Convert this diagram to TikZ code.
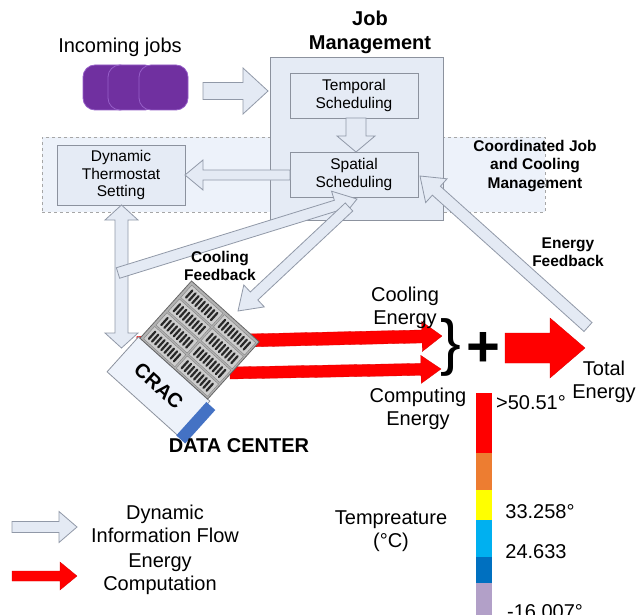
\documentclass[tikz,border=0pt]{standalone}
\usepackage{fontspec}
\setmainfont{Liberation Sans}
\usetikzlibrary{calc}
\definecolor{boxfill}{RGB}{229,235,245}
\definecolor{regfill}{RGB}{237,242,250}
\definecolor{boxline}{RGB}{140,146,158}
\definecolor{arrfill}{RGB}{228,234,244}
\definecolor{arrline}{RGB}{145,153,168}
\definecolor{jobpurple}{RGB}{112,48,160}
\definecolor{jobedge}{RGB}{150,95,200}
\definecolor{rackfill}{RGB}{178,178,178}
\definecolor{rackcell}{RGB}{205,205,205}
\definecolor{slotcol}{RGB}{40,40,40}
\definecolor{cracblue}{RGB}{68,114,196}
\definecolor{tred}{RGB}{255,0,0}
\definecolor{torange}{RGB}{237,125,49}
\definecolor{tyellow}{RGB}{255,255,0}
\definecolor{tlblue}{RGB}{0,176,240}
\definecolor{tdblue}{RGB}{0,112,192}
\definecolor{tlav}{RGB}{178,160,200}
\tikzset{
  flow/.style={fill=arrfill, draw=arrline, line width=0.8pt, line join=miter},
  energy/.style={fill=red, draw=red!85!black, line width=0.3pt},
  box/.style={draw=boxline, fill=boxfill, line width=0.8pt, align=center,
    font=\fontsize{15.5}{17.5}\selectfont, inner sep=0pt},
  lbl/.style={align=center, font=\fontsize{20}{23}\selectfont, inner sep=0pt},
  blbl/.style={align=center, font=\bfseries\fontsize{15.5}{17.5}\selectfont, inner sep=0pt},
}
% block arrow: style, from, to, shaft half width, head half width, head length
\newcommand{\blockarrow}[6]{%
  \path let \p1=($(#3)-(#2)$) in \pgfextra{%
    \pgfmathsetmacro{\baLen}{veclen(\x1,\y1)}%
    \pgfmathsetmacro{\baAng}{atan2(\y1,\x1)}%
    \xdef\baLen{\baLen}\xdef\baAng{\baAng}};
  \begin{scope}[shift={(#2)},rotate=\baAng]
    \draw[#1] (0,#4) -- ({\baLen-#6},#4) -- ({\baLen-#6},#5) -- (\baLen,0)
      -- ({\baLen-#6},-#5) -- ({\baLen-#6},-#4) -- (0,-#4) -- cycle;
  \end{scope}}
\newcommand{\blockdarrow}[6]{%
  \path let \p1=($(#3)-(#2)$) in \pgfextra{%
    \pgfmathsetmacro{\baLen}{veclen(\x1,\y1)}%
    \pgfmathsetmacro{\baAng}{atan2(\y1,\x1)}%
    \xdef\baLen{\baLen}\xdef\baAng{\baAng}};
  \begin{scope}[shift={(#2)},rotate=\baAng]
    \draw[#1] (#6,#4) -- ({\baLen-#6},#4) -- ({\baLen-#6},#5) -- (\baLen,0)
      -- ({\baLen-#6},-#5) -- ({\baLen-#6},-#4) -- (#6,-#4) -- (#6,-#5)
      -- (0,0) -- (#6,#5) -- cycle;
  \end{scope}}
\begin{document}
\begin{tikzpicture}[x=1pt,y=-1pt]
\useasboundingbox (0,0) rectangle (637,615);
\fill[white] (0,0) rectangle (637,615);

% regions and boxes
\node[draw=gray!70, dashed, fill=regfill, line width=0.6pt, minimum width=503, minimum height=75, inner sep=0pt] (coord) at (293.5,174.5) {};
\node[box, minimum width=173, minimum height=163] (jm) at (356.5,138.5) {};
\node[box, minimum width=128, minimum height=45] (temporal) at (354,95.5) {Temporal\\Scheduling};
\node[box, minimum width=128, minimum height=45] (spatial) at (354,174.5) {Spatial\\Scheduling};
\node[box, minimum width=128, minimum height=60] (thermo) at (121,175) {Dynamic\\Thermostat\\Setting};

% jobs
\draw[fill=jobpurple, draw=jobedge, line width=0.8pt, rounded corners=12] (83,65) rectangle (132,110);
\draw[fill=jobpurple, draw=jobedge, line width=0.8pt, rounded corners=12] (108,65) rectangle (157,110);
\draw[fill=jobpurple, draw=jobedge, line width=0.8pt, rounded corners=12] (139,65) rectangle (188,110);

% arrow end points
\coordinate (jobsR) at (203,91);
\coordinate (jmL) at (268,91);
\coordinate (tS) at (356,118);
\coordinate (sN) at (356,152);
\coordinate (sW) at (290,175);
\coordinate (thE) at (185,175);
\coordinate (thS) at (121.5,205);
\coordinate (cracN) at (121.5,348);
\coordinate (cfTail) at (118,273);
\coordinate (sS1) at (357,199);
\coordinate (sS2) at (349,207);
\coordinate (dcN) at (238,311);
\coordinate (efTail) at (588,327);
\coordinate (sE) at (420,176);
\coordinate (rTail1) at (137,343);
\coordinate (rTip1) at (442,336);
\coordinate (rTail2) at (230,373);
\coordinate (rTip2) at (441,369);
\coordinate (bigTail) at (505,348);
\coordinate (bigTip) at (585,348);
\coordinate (l1a) at (12,527);
\coordinate (l1b) at (77,527);
\coordinate (l2a) at (12,576);
\coordinate (l2b) at (77,576);

% information flow arrows
\blockarrow{flow}{jobsR}{jmL}{8.5}{23}{25}
\blockarrow{flow}{tS}{sN}{10}{19}{16}
\blockarrow{flow}{sW}{thE}{5}{15}{18}
\blockdarrow{flow}{thS}{cracN}{6.5}{16.5}{15}
\blockarrow{flow}{cfTail}{sS1}{5.5}{15}{22}
\blockarrow{flow}{sS2}{dcN}{5.5}{15}{22}
\blockarrow{flow}{efTail}{sE}{6}{16}{22}

% energy arrows
\blockarrow{energy}{rTail1}{rTip1}{6.5}{15}{20}
\blockarrow{energy}{rTail2}{rTip2}{6}{14}{20}
\blockarrow{energy}{bigTail}{bigTip}{15}{30}{35}

% data center: rack and CRAC (local u along the rack edge, v across)
\begin{scope}[shift={(196,285)}, rotate=-42]
  \draw[fill=regfill, draw=boxline, line width=0.8pt] (-8,77) rectangle (88,124);
  \fill[cracblue] (86,80) rectangle (98,125);
  \draw[fill=rackfill, draw=gray!80!black, line width=0.8pt] (-6,0) rectangle (85,77);
  \foreach \i in {0,1} {
    \foreach \j in {0,1,2,3} {
      \pgfmathsetmacro{\uo}{-4+\i*44}
      \pgfmathsetmacro{\vo}{2+\j*18.5}
      \draw[fill=rackcell, draw=gray, line width=0.4pt] (\uo+1,\vo+1) rectangle (\uo+43,\vo+17.5);
      \foreach \k in {0,...,8} {
        \draw[slotcol, line width=2.2pt, line cap=round] (\uo+5+\k*4.2,\vo+4.5) -- (\uo+5+\k*4.2,\vo+14);
      }
    }
  }
  \node[font=\bfseries\fontsize{20}{23}\selectfont, rotate=-42, inner sep=0pt] (crac) at (40,100) {CRAC};
\end{scope}

% temperature bar
\fill[tred] (476,393) rectangle (492,453);
\fill[torange] (476,453) rectangle (492,490);
\fill[tyellow] (476,490) rectangle (492,520);
\fill[tlblue] (476,520) rectangle (492,557);
\fill[tdblue] (476,557) rectangle (492,583);
\fill[tlav] (476,583) rectangle (492,615);

% texts
\node[lbl] (incoming) at (120,47) {Incoming jobs};
\node[align=center, font=\bfseries\fontsize{20}{24}\selectfont, inner sep=0pt] (jmtitle) at (370,32) {Job\\Management};
\node[align=center, font=\bfseries\fontsize{15.5}{18.5}\selectfont, inner sep=0pt] (coordlbl) at (535,166) {Coordinated Job\\and Cooling\\Management};
\node[blbl] (cfb) at (220,266) {Cooling\\Feedback};
\node[blbl] (efb) at (568,252) {Energy\\Feedback};
\node[lbl] (coolE) at (405,308) {Cooling\\Energy};
\node[lbl] (compE) at (418,409) {Computing\\Energy};
\node[lbl] (totE) at (604,382) {Total\\Energy};
\node[inner sep=0pt, font=\fontsize{62}{62}\selectfont] (brace) at (451,347) {\}};
\node[inner sep=0pt, font=\bfseries\fontsize{58}{58}\selectfont] (plus) at (483,349) {+};
\node[align=center, font=\bfseries\fontsize{20}{23}\selectfont, inner sep=0pt] (dc) at (239,446) {DATA CENTER};
\node[lbl] (templbl) at (391,531) {Tempreature\\(°C)};
\node[lbl] (t1) at (531,403) {>50.51°};
\node[lbl] (t2) at (540,512) {33.258°};
\node[lbl] (t3) at (536,552) {24.633};
\node[lbl] (t4) at (545,612) {-16.007°};

% legend
\blockarrow{flow}{l1a}{l1b}{5.5}{15.5}{18}
\blockarrow{energy}{l2a}{l2b}{5}{14}{17}
\node[lbl] (leg1) at (165,524) {Dynamic\\Information Flow};
\node[lbl] (leg2) at (160,574) {Energy\\Computation};
\end{tikzpicture}
\end{document}
